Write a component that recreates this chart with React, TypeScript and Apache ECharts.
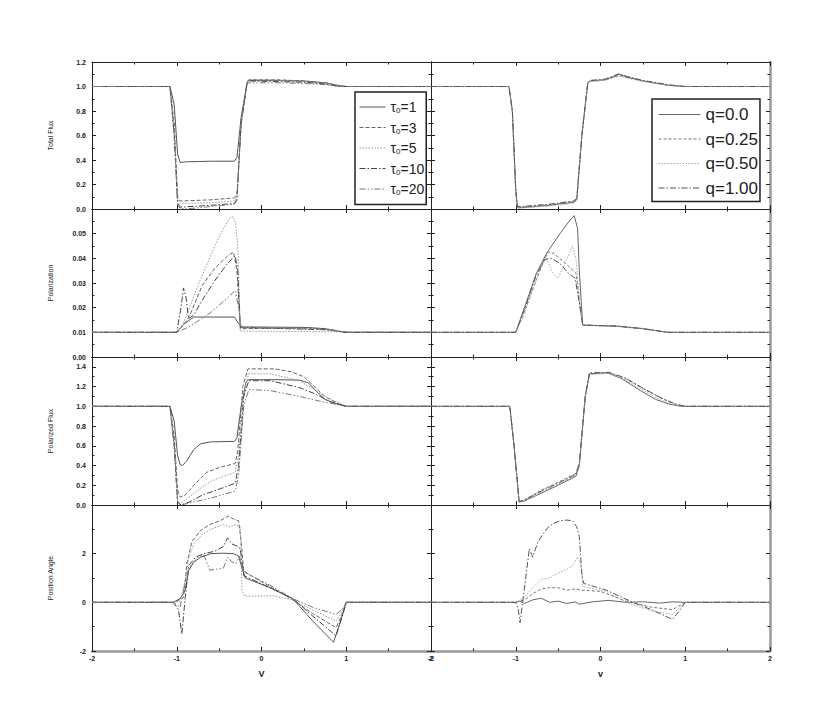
import React, { useEffect, useRef } from "react";
import * as echarts from "echarts";

// ---------- names / labels ----------
const TAU_NAMES = ["τ0=1", "τ0=3", "τ0=5", "τ0=10", "τ0=20"];
const Q_NAMES = ["q=0.0", "q=0.25", "q=0.50", "q=1.00"];
const ROW_TITLES = ["Total Flux", "Polarization", "Polarized Flux", "Position Angle"];
const X_NAMES = ["V", "v"];

// ---------- Total Flux (left: tau0) ----------
const fluxTau1 = [[-2, 1], [-1.08, 1], [-1.03, 0.85], [-0.99, 0.45], [-0.96, 0.38], [-0.9, 0.385], [-0.6, 0.39], [-0.32, 0.39], [-0.29, 0.42], [-0.24, 0.75], [-0.17, 1.03], [-0.15, 1.05], [0.1, 1.05], [0.5, 1.045], [0.75, 1.03], [0.9, 1.01], [1.0, 1.0], [2, 1]];
const fluxTau3 = [[-2, 1], [-1.08, 1], [-1.03, 0.7], [-0.99, 0.1], [-0.96, 0.065], [-0.6, 0.075], [-0.32, 0.09], [-0.29, 0.12], [-0.24, 0.7], [-0.17, 1.04], [-0.15, 1.055], [0.2, 1.055], [0.5, 1.045], [0.75, 1.03], [0.92, 1.005], [1, 1], [2, 1]];
const fluxTau5 = [[-2, 1], [-1.08, 1], [-1.03, 0.65], [-0.99, 0.08], [-0.96, 0.045], [-0.6, 0.05], [-0.32, 0.065], [-0.29, 0.1], [-0.24, 0.7], [-0.17, 1.04], [-0.15, 1.055], [0.2, 1.05], [0.5, 1.04], [0.75, 1.025], [0.92, 1.005], [1, 1], [2, 1]];
const fluxTau10 = [[-2, 1], [-1.08, 1], [-1.03, 0.6], [-0.99, 0.05], [-0.96, 0.015], [-0.6, 0.03], [-0.32, 0.045], [-0.29, 0.08], [-0.24, 0.7], [-0.17, 1.03], [-0.15, 1.045], [0.2, 1.04], [0.5, 1.035], [0.75, 1.02], [0.92, 1.0], [1, 1], [2, 1]];
const fluxTau20 = [[-2, 1], [-1.08, 1], [-1.03, 0.6], [-0.99, 0.03], [-0.96, 0.005], [-0.9, 0.0], [-0.6, 0.02], [-0.32, 0.04], [-0.29, 0.07], [-0.24, 0.7], [-0.17, 1.02], [-0.15, 1.03], [0.2, 1.03], [0.5, 1.025], [0.75, 1.015], [0.92, 1.0], [1, 1], [2, 1]];

// ---------- Total Flux (right: q) ----------
const fluxQ0 = [[-2, 1], [-1.08, 1], [-1.04, 0.8], [-1.0, 0.15], [-0.98, 0.01], [-0.9, 0.012], [-0.6, 0.03], [-0.32, 0.055], [-0.28, 0.075], [-0.22, 0.6], [-0.15, 1.03], [-0.12, 1.045], [0.05, 1.055], [0.15, 1.08], [0.22, 1.1], [0.3, 1.08], [0.5, 1.045], [0.8, 1.01], [1.0, 1.0], [2, 1]];
const fluxQ025 = [[-2, 1], [-1.08, 1], [-1.04, 0.8], [-1.0, 0.15], [-0.98, 0.015], [-0.9, 0.018], [-0.6, 0.035], [-0.32, 0.06], [-0.28, 0.08], [-0.22, 0.6], [-0.15, 1.03], [-0.12, 1.045], [0.05, 1.05], [0.15, 1.075], [0.22, 1.09], [0.3, 1.075], [0.5, 1.045], [0.8, 1.01], [1.0, 1.0], [2, 1]];
const fluxQ050 = [[-2, 1], [-1.08, 1], [-1.04, 0.8], [-1.0, 0.15], [-0.98, 0.008], [-0.9, 0.01], [-0.6, 0.025], [-0.32, 0.045], [-0.28, 0.07], [-0.22, 0.6], [-0.15, 1.03], [-0.12, 1.04], [0.05, 1.05], [0.15, 1.07], [0.22, 1.085], [0.3, 1.07], [0.5, 1.04], [0.8, 1.01], [1.0, 1.0], [2, 1]];
const fluxQ1 = [[-2, 1], [-1.08, 1], [-1.04, 0.8], [-1.0, 0.15], [-0.98, 0.02], [-0.9, 0.022], [-0.6, 0.04], [-0.32, 0.065], [-0.28, 0.085], [-0.22, 0.6], [-0.15, 1.03], [-0.12, 1.05], [0.05, 1.06], [0.15, 1.085], [0.22, 1.105], [0.3, 1.085], [0.5, 1.05], [0.8, 1.015], [1.0, 1.0], [2, 1]];

// ---------- Polarization (left) ----------
const polTau1 = [[-2, 0.01], [-1, 0.01], [-0.92, 0.0132], [-0.8, 0.0162], [-0.32, 0.0162], [-0.27, 0.0135], [-0.22, 0.0122], [0.5, 0.012], [0.75, 0.0115], [0.9, 0.0105], [1.0, 0.01], [2, 0.01]];
const polTau3 = [[-2, 0.01], [-1, 0.01], [-0.9, 0.014], [-0.85, 0.0165], [-0.7, 0.029], [-0.55, 0.036], [-0.4, 0.041], [-0.33, 0.0425], [-0.29, 0.035], [-0.25, 0.0115], [0.6, 0.0118], [0.9, 0.0105], [1, 0.01], [2, 0.01]];
const polTau5 = [[-2, 0.01], [-1, 0.01], [-0.93, 0.013], [-0.85, 0.02], [-0.75, 0.029], [-0.65, 0.037], [-0.55, 0.045], [-0.45, 0.052], [-0.38, 0.056], [-0.34, 0.057], [-0.31, 0.055], [-0.28, 0.045], [-0.25, 0.0105], [1, 0.0102], [2, 0.01]];
const polTau10 = [[-2, 0.01], [-1, 0.01], [-0.95, 0.02], [-0.92, 0.028], [-0.89, 0.024], [-0.86, 0.0155], [-0.8, 0.017], [-0.7, 0.023], [-0.55, 0.031], [-0.4, 0.038], [-0.31, 0.041], [-0.28, 0.035], [-0.25, 0.012], [0.8, 0.011], [1, 0.01], [2, 0.01]];
const polTau20 = [[-2, 0.01], [-1, 0.01], [-0.9, 0.0115], [-0.84, 0.0125], [-0.6, 0.018], [-0.4, 0.024], [-0.31, 0.027], [-0.27, 0.02], [-0.24, 0.012], [0.8, 0.0112], [1, 0.01], [2, 0.01]];

// ---------- Polarization (right) ----------
const polQ0 = [[-2, 0.01], [-1, 0.01], [-0.88, 0.0217], [-0.76, 0.0337], [-0.64, 0.0418], [-0.48, 0.0499], [-0.36, 0.0555], [-0.31, 0.0573], [-0.27, 0.052], [-0.25, 0.035], [-0.21, 0.0129], [0.2, 0.0125], [0.5, 0.0115], [0.79, 0.01], [2, 0.01]];
const polQ025 = [[-2, 0.01], [-1, 0.01], [-0.88, 0.02], [-0.76, 0.031], [-0.68, 0.038], [-0.62, 0.0425], [-0.55, 0.042], [-0.45, 0.039], [-0.35, 0.036], [-0.29, 0.034], [-0.24, 0.02], [-0.21, 0.0129], [0.2, 0.0124], [0.5, 0.0114], [0.79, 0.01], [2, 0.01]];
const polQ050 = [[-2, 0.01], [-1, 0.01], [-0.9, 0.017], [-0.85, 0.0225], [-0.72, 0.035], [-0.64, 0.04], [-0.56, 0.034], [-0.5, 0.032], [-0.42, 0.038], [-0.33, 0.045], [-0.29, 0.04], [-0.24, 0.02], [-0.21, 0.013], [0.2, 0.0126], [0.5, 0.0116], [0.79, 0.01], [2, 0.01]];
const polQ1 = [[-2, 0.01], [-1, 0.01], [-0.88, 0.021], [-0.76, 0.033], [-0.66, 0.0395], [-0.58, 0.04], [-0.48, 0.038], [-0.38, 0.034], [-0.3, 0.032], [-0.24, 0.02], [-0.21, 0.013], [0.2, 0.0125], [0.5, 0.0115], [0.79, 0.01], [2, 0.01]];

// ---------- Polarized Flux (left) ----------
const pfTau1 = [[-2, 1], [-1.08, 1], [-1.03, 0.85], [-0.99, 0.5], [-0.96, 0.41], [-0.93, 0.4], [-0.88, 0.45], [-0.8, 0.56], [-0.72, 0.62], [-0.6, 0.64], [-0.32, 0.645], [-0.29, 0.68], [-0.24, 1.0], [-0.18, 1.25], [-0.15, 1.27], [0.2, 1.27], [0.45, 1.265], [0.55, 1.24], [0.65, 1.15], [0.75, 1.07], [0.9, 1.02], [1.0, 1.0], [2, 1]];
const pfTau3 = [[-2, 1], [-1.08, 1], [-1.03, 0.7], [-0.99, 0.15], [-0.96, 0.08], [-0.9, 0.1], [-0.8, 0.2], [-0.65, 0.33], [-0.5, 0.38], [-0.31, 0.42], [-0.28, 0.55], [-0.22, 1.2], [-0.16, 1.38], [0.15, 1.38], [0.35, 1.35], [0.5, 1.3], [0.6, 1.22], [0.75, 1.1], [0.9, 1.03], [1, 1], [2, 1]];
const pfTau5 = [[-2, 1], [-1.08, 1], [-1.03, 0.6], [-0.99, 0.05], [-0.96, 0.02], [-0.9, 0.05], [-0.75, 0.15], [-0.6, 0.24], [-0.45, 0.29], [-0.31, 0.33], [-0.27, 0.5], [-0.21, 1.15], [-0.15, 1.33], [0.1, 1.33], [0.45, 1.26], [0.6, 1.18], [0.75, 1.1], [0.9, 1.04], [1, 1], [2, 1]];
const pfTau10 = [[-2, 1], [-1.08, 1], [-1.03, 0.6], [-0.99, 0.03], [-0.95, 0.0], [-0.85, 0.03], [-0.7, 0.1], [-0.5, 0.16], [-0.31, 0.22], [-0.27, 0.4], [-0.21, 1.1], [-0.15, 1.26], [0.1, 1.26], [0.45, 1.19], [0.65, 1.12], [0.8, 1.05], [1, 1], [2, 1]];
const pfTau20 = [[-2, 1], [-1.08, 1], [-1.03, 0.6], [-0.99, 0.02], [-0.95, 0.0], [-0.8, 0.03], [-0.6, 0.07], [-0.31, 0.14], [-0.27, 0.3], [-0.21, 1.0], [-0.15, 1.17], [0.1, 1.16], [0.45, 1.1], [0.7, 1.05], [1, 1], [2, 1]];

// ---------- Polarized Flux (right) ----------
const pfQ0 = [[-2, 1], [-1.07, 1], [-1.02, 0.6], [-0.96, 0.03], [-0.9, 0.04], [-0.7, 0.12], [-0.5, 0.2], [-0.29, 0.29], [-0.25, 0.4], [-0.18, 1.1], [-0.13, 1.33], [0.08, 1.34], [0.25, 1.28], [0.47, 1.16], [0.65, 1.07], [0.82, 1.02], [0.95, 1.0], [2, 1]];
const pfQ025 = [[-2, 1], [-1.07, 1], [-1.02, 0.6], [-0.96, 0.035], [-0.9, 0.05], [-0.7, 0.15], [-0.5, 0.23], [-0.29, 0.32], [-0.25, 0.42], [-0.18, 1.1], [-0.13, 1.33], [0.1, 1.34], [0.3, 1.28], [0.52, 1.17], [0.72, 1.08], [0.88, 1.02], [1.0, 1.0], [2, 1]];
const pfQ050 = [[-2, 1], [-1.07, 1], [-1.02, 0.6], [-0.96, 0.03], [-0.9, 0.045], [-0.7, 0.13], [-0.5, 0.21], [-0.29, 0.3], [-0.25, 0.41], [-0.18, 1.1], [-0.13, 1.32], [0.09, 1.335], [0.27, 1.28], [0.5, 1.165], [0.68, 1.075], [0.85, 1.02], [0.97, 1.0], [2, 1]];
const pfQ1 = [[-2, 1], [-1.07, 1], [-1.02, 0.6], [-0.96, 0.035], [-0.9, 0.05], [-0.7, 0.14], [-0.5, 0.22], [-0.29, 0.31], [-0.25, 0.42], [-0.18, 1.1], [-0.13, 1.34], [0.1, 1.345], [0.3, 1.285], [0.52, 1.175], [0.72, 1.085], [0.88, 1.025], [1.0, 1.0], [2, 1]];

// ---------- Position Angle (left) ----------
const paTau1 = [[-2, 0], [-1.04, 0], [-0.96, 0.15], [-0.9, 0.5], [-0.86, 1.3], [-0.8, 1.65], [-0.72, 1.85], [-0.6, 2.0], [-0.45, 2.02], [-0.33, 2.0], [-0.27, 1.9], [-0.23, 1.4], [-0.19, 1.0], [0.1, 0.6], [0.37, 0.15], [0.6, -0.75], [0.85, -1.64], [0.93, -0.8], [1.0, 0], [2, 0]];
const paTau3 = [[-2, 0], [-1.04, 0], [-0.97, 0.1], [-0.92, 0.2], [-0.88, 1.6], [-0.82, 2.5], [-0.72, 2.95], [-0.61, 3.2], [-0.49, 3.35], [-0.39, 3.55], [-0.33, 3.42], [-0.27, 3.35], [-0.24, 2.5], [-0.21, 1.3], [-0.15, 1.15], [0.1, 0.65], [0.37, 0.1], [0.6, -0.45], [0.88, -1.04], [0.95, -0.5], [1.0, 0], [2, 0]];
const paTau5 = [[-2, 0], [-1.04, 0], [-0.96, 0.05], [-0.9, 0.9], [-0.86, 1.8], [-0.8, 2.4], [-0.7, 2.8], [-0.6, 3.0], [-0.45, 3.2], [-0.38, 3.1], [-0.3, 3.2], [-0.25, 3.1], [-0.23, 0.5], [-0.2, 0.25], [0.14, 0.27], [0.37, 0.1], [0.6, -0.3], [0.88, -0.77], [0.95, -0.4], [1, 0], [2, 0]];
const paTau10 = [[-2, 0], [-1.04, 0], [-0.98, -0.3], [-0.94, -1.3], [-0.9, 0.2], [-0.86, 1.5], [-0.78, 1.85], [-0.68, 2.0], [-0.55, 2.1], [-0.45, 2.3], [-0.4, 2.65], [-0.35, 2.4], [-0.28, 2.3], [-0.25, 2.2], [-0.21, 1.1], [0.1, 0.6], [0.37, 0.15], [0.6, -0.55], [0.88, -1.38], [0.95, -0.6], [1, 0], [2, 0]];
const paTau20 = [[-2, 0], [-1.04, 0], [-0.96, -0.2], [-0.9, 0.8], [-0.84, 1.5], [-0.75, 1.85], [-0.68, 1.95], [-0.61, 1.32], [-0.55, 1.35], [-0.45, 1.4], [-0.4, 1.86], [-0.35, 1.66], [-0.3, 1.6], [-0.26, 1.9], [-0.22, 1.3], [-0.18, 1.2], [0.1, 0.7], [0.37, 0.15], [0.6, -0.2], [0.88, -0.5], [0.95, -0.3], [1, 0], [2, 0]];

// ---------- Position Angle (right) ----------
const paQ0 = [[-2, 0], [-1, 0], [-0.95, 0.05], [-0.9, -0.05], [-0.8, 0.1], [-0.7, 0.17], [-0.6, 0.0], [-0.5, 0.05], [-0.4, -0.05], [-0.3, 0.02], [-0.25, -0.08], [-0.1, 0.02], [0.1, 0.08], [0.3, 0.0], [0.5, 0.02], [0.7, -0.03], [0.85, 0.02], [1.0, 0], [2, 0]];
const paQ025 = [[-2, 0], [-1, 0], [-0.9, 0.1], [-0.8, 0.35], [-0.7, 0.55], [-0.6, 0.6], [-0.5, 0.6], [-0.4, 0.5], [-0.3, 0.55], [-0.22, 0.5], [0.0, 0.45], [0.3, 0.05], [0.6, -0.2], [0.85, -0.3], [1, 0], [2, 0]];
const paQ050 = [[-2, 0], [-1.0, 0], [-0.9, 0.2], [-0.8, 0.6], [-0.7, 0.95], [-0.6, 1.0], [-0.5, 1.2], [-0.4, 1.35], [-0.33, 1.5], [-0.27, 1.86], [-0.23, 1.5], [-0.21, 0.65], [0.07, 0.45], [0.3, 0.0], [0.6, -0.35], [0.85, -0.5], [1, 0], [2, 0]];
const paQ1 = [[-2, 0], [-1.0, 0], [-0.97, -0.3], [-0.95, -0.84], [-0.9, 0.5], [-0.84, 2.2], [-0.8, 1.86], [-0.74, 2.47], [-0.68, 2.8], [-0.62, 3.08], [-0.55, 3.25], [-0.48, 3.35], [-0.4, 3.38], [-0.33, 3.35], [-0.28, 3.1], [-0.25, 2.7], [-0.22, 1.2], [-0.2, 0.78], [0.07, 0.5], [0.38, 0], [0.6, -0.3], [0.85, -0.7], [0.93, -0.35], [1.0, 0], [2, 0]];

const LEFT_DATA = [
  [fluxTau1, fluxTau3, fluxTau5, fluxTau10, fluxTau20],
  [polTau1, polTau3, polTau5, polTau10, polTau20],
  [pfTau1, pfTau3, pfTau5, pfTau10, pfTau20],
  [paTau1, paTau3, paTau5, paTau10, paTau20],
];
const RIGHT_DATA = [
  [fluxQ0, fluxQ025, fluxQ050, fluxQ1],
  [polQ0, polQ025, polQ050, polQ1],
  [pfQ0, pfQ025, pfQ050, pfQ1],
  [paQ0, paQ025, paQ050, paQ1],
];

// styles
const TAU_STYLES = [
  { color: "#555", type: "solid" },
  { color: "#666", type: [4, 2] },
  { color: "#999", type: [1.5, 1.5] },
  { color: "#444", type: [6, 2, 1.5, 2] },
  { color: "#777", type: [6, 2, 1.5, 2, 1.5, 2] },
];
const Q_STYLES = [
  { color: "#666", type: "solid" },
  { color: "#777", type: [3, 2] },
  { color: "#aaa", type: [1.5, 1.5] },
  { color: "#555", type: [6, 2, 1.5, 2] },
];

const COL_LEFT = [92, 431];
const PANEL_W = 339;
const ROW_TOP = [62, 209, 357, 505];
const ROW_H = [147, 148, 148, 146];

const ROW_AXES = [
  { min: 0, max: 1.2, interval: 0.2, fmt: (v: number) => (v >= 1.19 ? "1.2" : v.toFixed(1)) },
  { min: 0, max: 0.06, interval: 0.01, fmt: (v: number) => (v > 0.0595 ? "" : v.toFixed(2)) },
  { min: 0, max: 1.5, interval: 0.2, fmt: (v: number) => (v > 1.45 ? "" : v.toFixed(1)) },
  { min: -2, max: 4, interval: 2, fmt: (v: number) => (v > 3.5 ? "" : String(v)) },
];

const FONT = "Liberation Sans, Arial, sans-serif";
const LABEL_FONT = { fontSize: 7, color: "#222", fontFamily: FONT, fontWeight: "bold" as const };
const TICK = { show: true, inside: true, length: 4, lineStyle: { color: "#222" } };
const MINOR = { show: true, splitNumber: 2, length: 2.5, lineStyle: { color: "#222" } };

export default function App() {
  const ref = useRef<HTMLDivElement>(null);
  useEffect(() => {
    if (!ref.current) return;
    const chart = echarts.init(ref.current, undefined, { renderer: "svg" });
    const grids: any[] = [];
    const xAxes: any[] = [];
    const yAxes: any[] = [];
    const series: any[] = [];
    const topX: any[] = [];
    const rightY: any[] = [];
    let gi = 0;
    for (let r = 0; r < 4; r++) {
      for (let c = 0; c < 2; c++) {
        grids.push({ left: COL_LEFT[c], top: ROW_TOP[r], width: PANEL_W, height: ROW_H[r], containLabel: false });
        const bottomRow = r === 3;
        xAxes.push({
          type: "value", gridIndex: gi, min: -2, max: 2, interval: 1, position: "bottom",
          name: bottomRow ? X_NAMES[c] : "", nameLocation: "middle", nameGap: 18,
          nameTextStyle: { fontSize: 9, color: "#222", fontWeight: "bold", fontFamily: FONT },
          axisLine: { show: true, onZero: false, lineStyle: { color: bottomRow ? "#999" : "#222", width: bottomRow ? 2.5 : 1 } },
          axisTick: TICK, minorTick: MINOR,
          axisLabel: { show: bottomRow, margin: 4, ...LABEL_FONT, formatter: (v: number) => String(v) },
          splitLine: { show: false },
        });
        topX.push({
          type: "value", gridIndex: gi, min: -2, max: 2, interval: 1, position: "top",
          axisLine: { show: true, onZero: false, lineStyle: { color: "#222" } },
          axisTick: TICK, minorTick: MINOR,
          axisLabel: { show: false }, splitLine: { show: false },
        });
        const ra = ROW_AXES[r];
        yAxes.push({
          type: "value", gridIndex: gi, min: ra.min, max: ra.max, interval: ra.interval, position: "left",
          name: c === 0 ? ROW_TITLES[r] : "", nameLocation: "middle", nameGap: 38, nameRotate: 90,
          nameTextStyle: { fontSize: 7, color: "#222", fontFamily: FONT },
          axisLine: { show: true, onZero: false, lineStyle: { color: "#222" } },
          axisTick: TICK, minorTick: MINOR,
          axisLabel: { show: c === 0, margin: 6, ...LABEL_FONT, formatter: ra.fmt },
          splitLine: { show: false },
        });
        rightY.push({
          type: "value", gridIndex: gi, min: ra.min, max: ra.max, interval: ra.interval, position: "right",
          axisLine: { show: true, onZero: false, lineStyle: { color: c === 1 ? "#999" : "#222", width: c === 1 ? 2.5 : 1 } },
          axisTick: TICK, minorTick: MINOR,
          axisLabel: { show: false }, splitLine: { show: false },
        });
        const data = c === 0 ? LEFT_DATA[r] : RIGHT_DATA[r];
        const names = c === 0 ? TAU_NAMES : Q_NAMES;
        const styles = c === 0 ? TAU_STYLES : Q_STYLES;
        data.forEach((d, k) => {
          series.push({
            type: "line", name: names[k], xAxisIndex: gi, yAxisIndex: gi, data: d,
            symbol: "none", showSymbol: false, clip: true,
            lineStyle: { width: 1, color: styles[k].color, type: styles[k].type },
            itemStyle: { color: styles[k].color },
          });
        });
        gi++;
      }
    }
    chart.setOption({
      animation: false,
      backgroundColor: "#fff",
      grid: grids,
      xAxis: [...xAxes, ...topX],
      yAxis: [...yAxes, ...rightY],
      legend: [
        {
          data: TAU_NAMES, orient: "vertical", left: 355, top: 92,
          itemWidth: 26, itemHeight: 14, itemGap: 6,
          padding: [8, 2, 8, 4], borderColor: "#222", borderWidth: 1.5, backgroundColor: "#fff",
          selectedMode: false,
          itemStyle: { opacity: 0 },
          lineStyle: { width: 1 },
          formatter: (name: string) => `{t|τ}{s|0}{t|${name.slice(2)}}`,
          textStyle: {
            color: "#222", fontFamily: FONT,
            rich: { t: { fontSize: 14, color: "#222" }, s: { fontSize: 8, color: "#222", padding: [7, 0, 0, 0] } },
          },
        },
        {
          data: Q_NAMES, orient: "vertical", left: 652, top: 99,
          itemWidth: 42, itemHeight: 14, itemGap: 7.5,
          padding: [7, 2, 5, 6], borderColor: "#222", borderWidth: 1.5, backgroundColor: "#fff",
          selectedMode: false,
          itemStyle: { opacity: 0 },
          lineStyle: { width: 1 },
          textStyle: { fontSize: 17, color: "#222", fontFamily: FONT },
        },
      ],
      series,
    });
    return () => chart.dispose();
  }, []);
  return (
    <div
      ref={ref}
      style={{ position: "absolute", left: 0, top: 0, width: 830, height: 723, background: "#fff" }}
    />
  );
}
